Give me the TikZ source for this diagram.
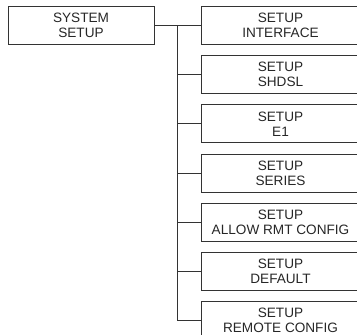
\documentclass[tikz,border=0pt]{standalone}
\usepackage{fontspec}
\setmainfont{Liberation Sans}
\usetikzlibrary{positioning}

\tikzset{
  menubox/.style={draw=black!80, line width=0.9pt, align=center, text=black!85,
    font=\fontsize{13.6}{15}\selectfont, inner sep=0pt},
  sysbox/.style={menubox, minimum width=146pt, minimum height=38.5pt},
  subbox/.style={menubox, minimum width=159pt, minimum height=38pt},
  link/.style={draw=black!80, line width=0.9pt}
}

\begin{document}
\begin{tikzpicture}[x=1pt,y=1pt,node distance=10.3pt]
\useasboundingbox (0,0) rectangle (357,-335);
\clip (0,0) rectangle (357,-335);
\node[sysbox] (sys) at (81,-25.5) {SYSTEM\\SETUP};
\node[subbox] (iface) at (280.5,-25.5) {SETUP\\INTERFACE};
\node[subbox, below=of iface] (shdsl) {SETUP\\SHDSL};
\node[subbox, below=of shdsl] (eone) {SETUP\\E1};
\node[subbox, below=of eone] (series) {SETUP\\SERIES};
\node[subbox, below=of series] (allow) {SETUP\\ALLOW RMT CONFIG};
\node[subbox, below=of allow] (default) {SETUP\\DEFAULT};
\node[subbox, below=of default] (remote) {SETUP\\REMOTE CONFIG};
% trunk
\coordinate (trunk) at (177.5,-25.5);
\draw[link] (sys.east) -- (iface.west);
\draw[link] (trunk) -- (trunk |- remote.west);
\foreach \b in {shdsl,eone,series,allow,default,remote}
  \draw[link] (trunk |- \b.west) -- (\b.west);
\end{tikzpicture}
\end{document}
